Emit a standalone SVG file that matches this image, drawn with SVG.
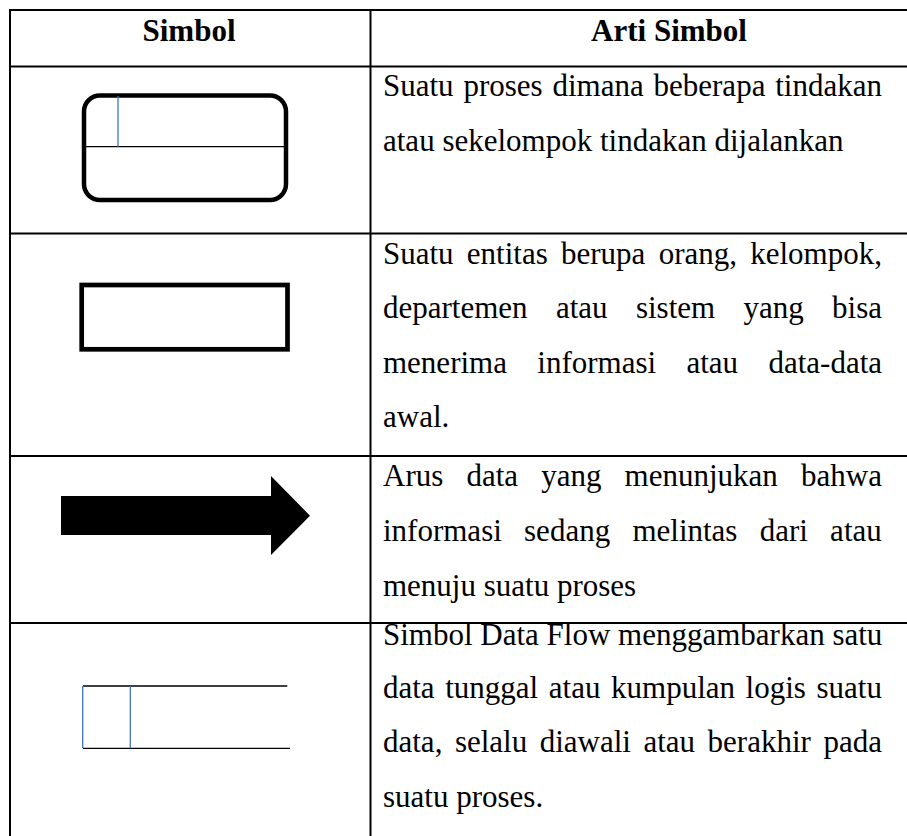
<svg xmlns="http://www.w3.org/2000/svg" width="907" height="836" viewBox="0 0 907 836">
<style>
.grid{stroke:#000;stroke-width:2;fill:none}
.t{font-size:31px;fill:#000}
.h{font-size:31px;font-weight:bold;fill:#000}
.thick{fill:none;stroke:#000}
.thin{stroke:#000;stroke-width:1.3}
.blue{stroke:#4472C4;stroke-width:1.3}
</style>
<rect width="907" height="836" fill="#fff"/>
<g id="table">
<line class="grid" x1="10" y1="10" x2="907" y2="10"/>
<line class="grid" x1="10" y1="66.5" x2="907" y2="66.5"/>
<line class="grid" x1="10" y1="233.5" x2="907" y2="233.5"/>
<line class="grid" x1="10" y1="456" x2="907" y2="456"/>
<line class="grid" x1="10" y1="623" x2="907" y2="623"/>
<line class="grid" x1="10" y1="9" x2="10" y2="836"/>
<line class="grid" x1="370.5" y1="9" x2="370.5" y2="836"/>
</g>
<g font-family="'Liberation Serif', 'Times New Roman', Tinos, 'DejaVu Serif', serif">
<g id="header">
<text class="h" x="189" y="41" text-anchor="middle">Simbol</text>
<text class="h" x="669" y="41" text-anchor="middle">Arti Simbol</text>
</g>
<g id="row-proses">
<rect class="thick" x="84" y="95.5" width="202" height="104.5" rx="16" stroke-width="4.5"/>
<line class="thin" x1="86" y1="146.7" x2="285" y2="146.7"/>
<line class="blue" x1="118" y1="96" x2="118" y2="146.7"/>
<text class="t" x="383" y="96" word-spacing="2.07">Suatu proses dimana beberapa tindakan</text>
<text class="t" x="383" y="151">atau sekelompok tindakan dijalankan</text>
</g>
<g id="row-entitas">
<rect class="thick" x="81.7" y="285" width="205.8" height="64.3" stroke-width="4.7"/>
<text class="t" x="383" y="263.5" word-spacing="5.5">Suatu entitas berupa orang, kelompok,</text>
<text class="t" x="383" y="318" word-spacing="20.6">departemen atau sistem yang bisa</text>
<text class="t" x="383" y="372.5" word-spacing="22.6">menerima informasi atau data-data</text>
<text class="t" x="383" y="427">awal.</text>
</g>
<g id="row-arus">
<polygon points="61,496 271,496 271,476 310,515.7 271,555 271,535 61,535" fill="#000"/>
<text class="t" x="383" y="485.7" word-spacing="15.4">Arus data yang menunjukan bahwa</text>
<text class="t" x="383" y="540.7" word-spacing="14.5">informasi sedang melintas dari atau</text>
<text class="t" x="383" y="596">menuju suatu proses</text>
</g>
<g id="row-dataflow">
<line class="thin" x1="83" y1="686" x2="287.3" y2="686"/>
<line class="thin" x1="83" y1="748.3" x2="290" y2="748.3"/>
<line class="blue" x1="82.7" y1="686" x2="82.7" y2="748.3"/>
<line class="blue" x1="130.3" y1="686" x2="130.3" y2="748.3"/>
<text class="t" x="383" y="645" word-spacing="0">Simbol Data Flow menggambarkan satu</text>
<text class="t" x="383" y="698" word-spacing="2.84">data tunggal atau kumpulan logis suatu</text>
<text class="t" x="383" y="752.3" word-spacing="4.76">data, selalu diawali atau berakhir pada</text>
<text class="t" x="383" y="806.8">suatu proses.</text>
</g>
</g>
</svg>
